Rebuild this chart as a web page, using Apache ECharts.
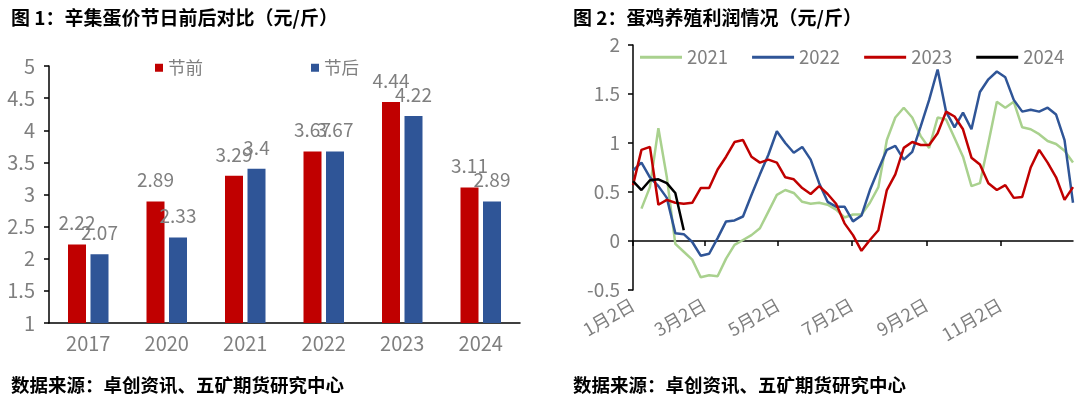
<!DOCTYPE html>
<html>
<head>
  <meta charset="utf-8">
  <title>蛋价与蛋鸡养殖利润</title>
  <script src="https://cdn.jsdelivr.net/npm/echarts@6/dist/echarts.min.js"></script>
  <style>
    html, body { margin: 0; padding: 0; background: #fff; }
  </style>
</head>
<body>
<div id="main" style="width:1080px;height:397px"></div>
<script type="text/javascript">
  // 图1 数据：辛集蛋价 节前/节后
  var barYears = ['2017', '2020', '2021', '2022', '2023', '2024'];
  var beforeFestival = [2.22, 2.89, 3.29, 3.67, 4.44, 3.11];
  var afterFestival = [2.07, 2.33, 3.4, 3.67, 4.22, 2.89];

  // 图2 数据：蛋鸡养殖利润（周度），各年从第几周开始
  var profit2021 = [0.33, 0.55, 1.15, 0.65, -0.03, -0.11, -0.19, -0.37, -0.35, -0.36,
    -0.18, -0.04, 0.01, 0.06, 0.13, 0.3, 0.47, 0.52, 0.49, 0.4,
    0.38, 0.39, 0.37, 0.32, 0.24, 0.27, 0.27, 0.39, 0.55, 1.03,
    1.26, 1.36, 1.26, 1.07, 0.95, 1.26, 1.24, 1.05, 0.86, 0.56,
    0.59, 1.0, 1.42, 1.36, 1.42, 1.16, 1.14, 1.09, 1.02, 0.99,
    0.92, 0.8];
  var profit2022 = [0.72, 0.8, 0.65, 0.56, 0.44, 0.08, 0.07, -0.01, -0.15, -0.13,
    0.03, 0.2, 0.21, 0.25, 0.47, 0.68, 0.88, 1.12, 1.0, 0.9,
    0.96, 0.83, 0.59, 0.4, 0.35, 0.35, 0.2, 0.26, 0.52, 0.73,
    0.93, 0.97, 0.83, 0.91, 1.17, 1.44, 1.75, 1.32, 1.16, 1.31,
    1.14, 1.52, 1.65, 1.73, 1.67, 1.44, 1.32, 1.34, 1.32, 1.36,
    1.29, 1.03, 0.39];
  var profit2023 = [0.57, 0.93, 0.96, 0.37, 0.42, 0.39, 0.38, 0.39, 0.54, 0.54,
    0.73, 0.86, 1.01, 1.03, 0.86, 0.8, 0.83, 0.8, 0.65, 0.63,
    0.54, 0.48, 0.56, 0.48, 0.38, 0.18, 0.06, -0.1, 0.01, 0.11,
    0.52, 0.68, 0.95, 1.01, 0.98, 0.98, 1.1, 1.32, 1.27, 1.14,
    0.85, 0.78, 0.59, 0.52, 0.57, 0.44, 0.45, 0.75, 0.93, 0.8,
    0.65, 0.42, 0.55];
  var profit2024 = [0.61, 0.52, 0.62, 0.63, 0.59, 0.49, 0.11];
  var firstWeek = { '2021': 1, '2022': 0, '2023': 0, '2024': 0 };

  // 日期轴：1月2日 起的每一天
  var monthDays = [31, 28, 31, 30, 31, 30, 31, 31, 30, 31, 30, 31];
  var days = [];
  for (var m = 0; m < 12; m++) {
    for (var d = (m === 0 ? 2 : 1); d <= monthDays[m]; d++) {
      days.push((m + 1) + '月' + d + '日');
    }
  }
  days.push('1月1日');
  var tickDays = ['1月2日', '3月2日', '5月2日', '7月2日', '9月2日', '11月2日'];
  function showDay(idx, val) { return tickDays.indexOf(val) >= 0; }

  function weekly(values, start) {
    return values.map(function (v, i) { return [start * 7 + i * 7, v]; });
  }

  var grey = '#7f7f7f';
  var font = "'Noto Sans CJK SC', sans-serif";
  var lineRect = { left: 633, top: 45, right: 7, height: 245 };
  var titleStyle = { fontSize: 19, fontWeight: 'bold', color: '#000', fontFamily: font };
  var sourceStyle = { fontSize: 18.5, fontWeight: 'bold', color: '#000', fontFamily: font };

  var myChart = echarts.init(document.getElementById('main'));
  var option = {
    animation: false,
    textStyle: { fontFamily: font },
    title: [
      { text: '图 1：辛集蛋价节日前后对比（元/斤）', left: 6, top: 3, textStyle: titleStyle },
      { text: '图 2：蛋鸡养殖利润情况（元/斤）', left: 568, top: 3, textStyle: titleStyle },
      { text: '数据来源：卓创资讯、五矿期货研究中心', left: 6, top: 371, textStyle: sourceStyle },
      { text: '数据来源：卓创资讯、五矿期货研究中心', left: 568, top: 371, textStyle: sourceStyle }
    ],
    legend: [
      { data: ['节前', '节后'], left: 150, top: 54, icon: 'rect', itemWidth: 8, itemHeight: 8,
        itemGap: 108, textStyle: { color: grey, fontSize: 17.5 } },
      { data: ['2021', '2022', '2023', '2024'], left: 640, top: 48, padding: 0, width: 440,
        icon: 'rect', itemWidth: 42, itemHeight: 3, itemGap: 24,
        textStyle: { color: grey, fontSize: 18.5 } }
    ],
    grid: [
      { left: 49, top: 66, width: 471, height: 257 },
      lineRect,
      lineRect
    ],
    xAxis: [
      { type: 'category', gridIndex: 0, data: barYears,
        axisLine: { lineStyle: { color: '#000', width: 1.5 } },
        axisTick: { length: 5, lineStyle: { color: '#000', width: 1.5 } },
        axisLabel: { color: grey, fontSize: 20, margin: 10 } },
      { type: 'category', gridIndex: 1, data: days, boundaryGap: false,
        axisLine: { onZero: true, lineStyle: { color: '#000', width: 1.5 } },
        axisTick: { interval: showDay, length: 5, lineStyle: { color: '#000', width: 1.5 } },
        axisLabel: { show: false } },
      { type: 'category', gridIndex: 2, data: days, boundaryGap: false,
        axisLine: { show: false, onZero: false }, axisTick: { show: false },
        axisLabel: { interval: showDay, rotate: 30, margin: 13, color: grey, fontSize: 18 } }
    ],
    yAxis: [
      { type: 'value', gridIndex: 0, min: 1, max: 5, interval: 0.5,
        splitLine: { show: false },
        axisLine: { show: true, lineStyle: { color: '#000', width: 1.5 } },
        axisTick: { show: true, length: 5, lineStyle: { color: '#000', width: 1.5 } },
        axisLabel: { color: grey, fontSize: 20, margin: 14 } },
      { type: 'value', gridIndex: 1, min: -0.5, max: 2, interval: 0.5,
        splitLine: { show: false },
        axisLine: { show: true, lineStyle: { color: '#000', width: 1.5 } },
        axisTick: { show: true, length: 5, lineStyle: { color: '#000', width: 1.5 } },
        axisLabel: { color: grey, fontSize: 19, margin: 13 } },
      { type: 'value', gridIndex: 2, min: -0.5, max: 2, show: false }
    ],
    series: [
      { name: '节前', type: 'bar', xAxisIndex: 0, yAxisIndex: 0, data: beforeFestival,
        barWidth: 18, barGap: '25%', itemStyle: { color: '#C00000' },
        label: { show: true, position: 'top', distance: 12, color: grey, fontSize: 19 } },
      { name: '节后', type: 'bar', xAxisIndex: 0, yAxisIndex: 0, data: afterFestival,
        barWidth: 18, itemStyle: { color: '#2F5597' },
        label: { show: true, position: 'top', distance: 12, color: grey, fontSize: 19 } },
      { name: '2021', type: 'line', xAxisIndex: 1, yAxisIndex: 1, showSymbol: false,
        data: weekly(profit2021, firstWeek['2021']), color: '#A9D18E', lineStyle: { width: 2.5 } },
      { name: '2022', type: 'line', xAxisIndex: 1, yAxisIndex: 1, showSymbol: false,
        data: weekly(profit2022, firstWeek['2022']), color: '#2F5597', lineStyle: { width: 2.5 } },
      { name: '2023', type: 'line', xAxisIndex: 1, yAxisIndex: 1, showSymbol: false,
        data: weekly(profit2023, firstWeek['2023']), color: '#C00000', lineStyle: { width: 2.5 } },
      { name: '2024', type: 'line', xAxisIndex: 1, yAxisIndex: 1, showSymbol: false,
        data: weekly(profit2024, firstWeek['2024']), color: '#000000', lineStyle: { width: 2.5 } }
    ]
  };
  myChart.setOption(option);
</script>
</body>
</html>
